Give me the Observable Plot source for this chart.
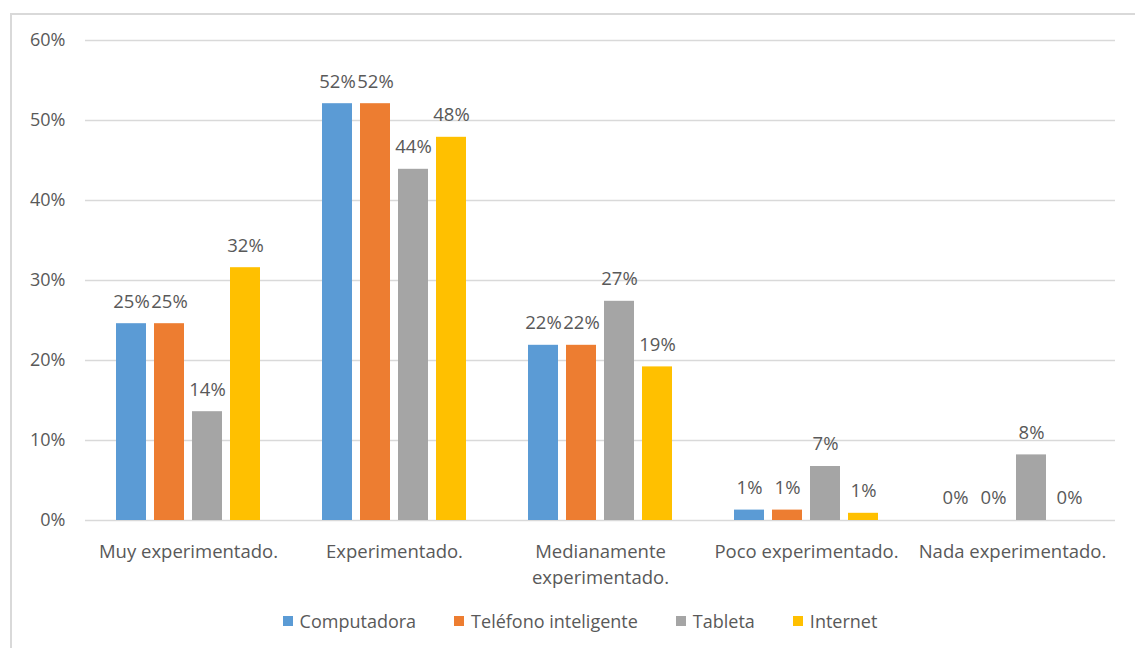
<!DOCTYPE html>
<html>
<head>
<meta charset="utf-8">
<script src="https://cdn.jsdelivr.net/npm/d3@7"></script>
<script src="https://cdn.jsdelivr.net/npm/@observablehq/plot@0.6"></script>
<style>
  html, body { margin: 0; padding: 0; background: #fff; }
  body { width: 1135px; height: 648px; position: relative; overflow: hidden; font-family: "Open Sans", sans-serif; }
  #frame { position: absolute; left: 10px; top: 13px; width: 1140px; height: 660px; border: 2px solid #d9d9d9; box-sizing: border-box; }
  #chart { position: absolute; left: 0; top: 0; }
  #legend { position: absolute; left: 10px; width: 1140px; top: 609px; display: flex; justify-content: center; gap: 38px; font-size: 18px; color: #595959; }
  #legend .item { display: flex; align-items: center; gap: 7px; }
  #legend .sw { width: 10px; height: 10px; display: inline-block; }
</style>
</head>
<body>
<div id="frame"></div>
<div id="chart"></div>
<div id="legend"></div>
<script>
const categories = ["Muy experimentado.", "Experimentado.", "Medianamente experimentado.", "Poco experimentado.", "Nada experimentado."];
const categoryLabels = ["Muy experimentado.", "Experimentado.", "Medianamente\nexperimentado.", "Poco experimentado.", "Nada experimentado."];
const series = ["Computadora", "Teléfono inteligente", "Tableta", "Internet"];
const colors = ["#5b9bd5", "#ed7d31", "#a5a5a5", "#ffc000"];
const computadora = [24.6, 52.1, 21.9, 1.3, 0];
const telefono = [24.6, 52.1, 21.9, 1.3, 0];
const tableta = [13.6, 43.9, 27.4, 6.75, 8.2];
const internet = [31.6, 47.9, 19.2, 0.9, 0];
const yTicks = [0, 10, 20, 30, 40, 50, 60];

const seriesValues = [computadora, telefono, tableta, internet];
const data = [];
categories.forEach((c, i) => {
  series.forEach((s, j) => data.push({cat: c, series: s, value: seriesValues[j][i]}));
});
const labelOf = new Map(categories.map((c, i) => [c, categoryLabels[i]]));

const plot = Plot.plot({
  width: 1135,
  height: 600,
  marginLeft: 83,
  marginRight: 18,
  marginTop: 40,
  marginBottom: 80,
  style: {fontFamily: "Open Sans, sans-serif", fontSize: "18px", color: "#595959", background: "transparent"},
  fx: {domain: categories, padding: 0, paddingOuter: 0, label: null},
  x: {domain: series, paddingInner: 0.2, paddingOuter: 0.8, axis: null},
  y: {domain: [0, 60], label: null},
  color: {domain: series, range: colors},
  marks: [
    Plot.ruleY(yTicks, {stroke: "#d9d9d9", strokeWidth: 1.3}),
    Plot.axisY(yTicks, {tickSize: 0, tickPadding: 20, tickFormat: d => d + "%", fill: "#595959", fontSize: 18, label: null}),
    Plot.axisFx({anchor: "bottom", tickSize: 0, tickPadding: 18, tickFormat: d => labelOf.get(d), fill: "#595959", fontSize: 18.5, lineHeight: 1.45, label: null}),
    Plot.barY(data, {fx: "cat", x: "series", y: "value", fill: "series"}),
    Plot.text(data, {fx: "cat", x: "series", y: "value", text: d => Math.round(d.value) + "%", dy: -22, fill: "#595959", fontSize: 18.5})
  ]
});
document.getElementById("chart").appendChild(plot);

const legend = document.getElementById("legend");
series.forEach((s, i) => {
  const it = document.createElement("div");
  it.className = "item";
  const sw = document.createElement("span");
  sw.className = "sw";
  sw.style.background = colors[i];
  const t = document.createElement("span");
  t.textContent = s;
  it.appendChild(sw); it.appendChild(t);
  legend.appendChild(it);
});
</script>
</body>
</html>
